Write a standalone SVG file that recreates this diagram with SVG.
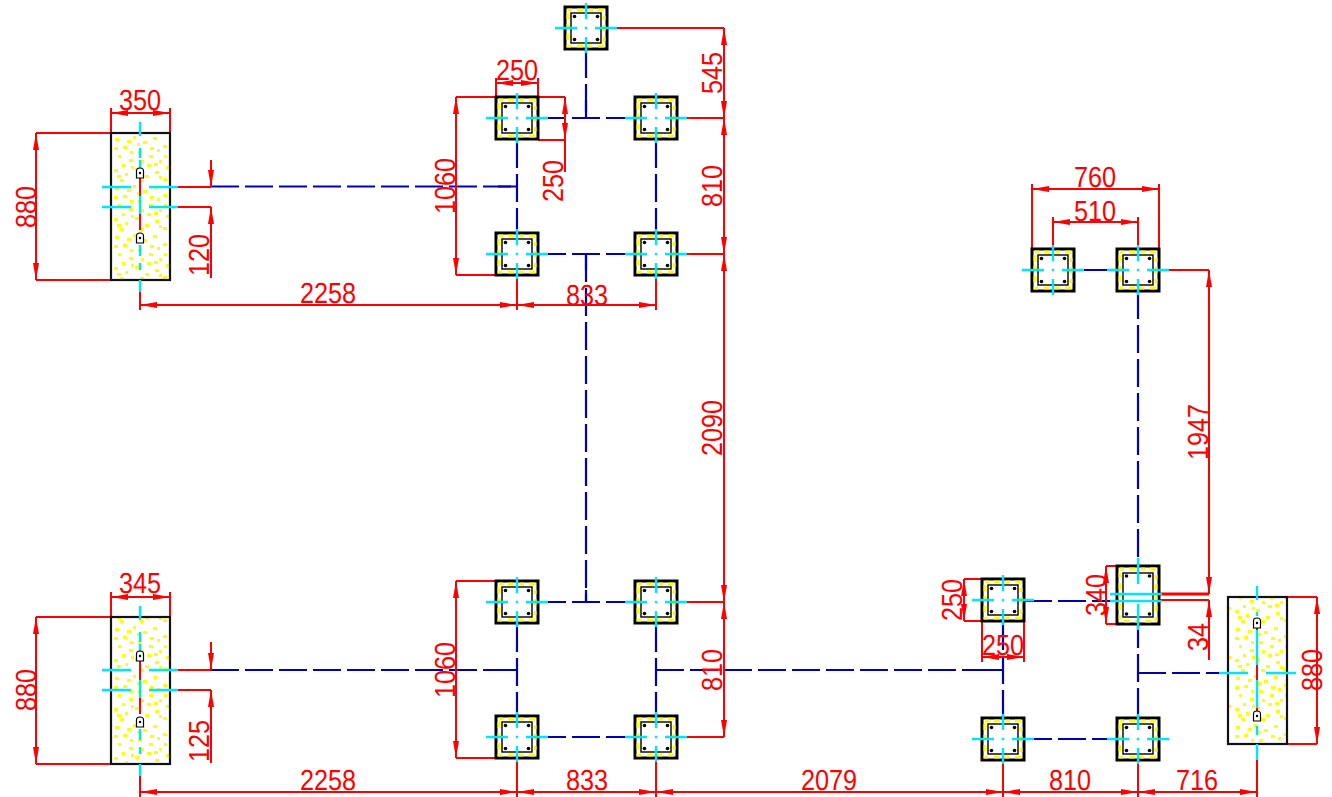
<svg xmlns="http://www.w3.org/2000/svg" xmlns:xlink="http://www.w3.org/1999/xlink" width="1332" height="797" viewBox="0 0 1332 797">
<style>
text{font-family:"Liberation Sans",Arial,sans-serif;font-size:29px;fill:#ff0000;text-anchor:middle;text-rendering:geometricPrecision}
.d{stroke:#ff0000;stroke-width:2;fill:none}
.a{marker-start:url(#ar);marker-end:url(#ar)}
.b{stroke:#0000b4;stroke-width:2.2;fill:none;stroke-dasharray:28 6}
.s{stroke:#0000b4;stroke-width:2.2;fill:none}
.c{stroke:#00e5ff;stroke-width:2.4;fill:none}
.o{fill:#fff;stroke:#000;stroke-width:3}
.y{fill:none;stroke:#ffff00;stroke-width:3;stroke-dasharray:4 5 6 6}
.i{fill:none;stroke:#000;stroke-width:1.4}
.f{fill:url(#dots);stroke:#111;stroke-width:2.2}
.h{fill:#fff;stroke:#000;stroke-width:1.2}
</style>
<defs>
<marker id="ar" viewBox="0 0 17 6" refX="17" refY="3" markerWidth="17" markerHeight="6" markerUnits="userSpaceOnUse" orient="auto-start-reverse"><path d="M17 3L0 0V6Z" fill="#ff0000"/></marker>
<pattern id="dots" patternUnits="userSpaceOnUse" width="59" height="49" x="111" y="133">
<rect width="59" height="49" fill="#fff"/>
<g fill="#ffff00">
<rect x="4" y="5" width="4" height="3"/><rect x="12" y="13" width="4" height="3"/><rect x="22" y="3" width="3" height="3"/><rect x="32" y="8" width="4" height="3"/><rect x="42" y="4" width="4" height="3"/><rect x="52" y="12" width="4" height="3"/><rect x="7" y="22" width="3" height="3"/><rect x="18" y="26" width="4" height="3"/><rect x="27" y="18" width="4" height="3"/><rect x="38" y="22" width="4" height="3"/><rect x="48" y="27" width="3" height="3"/><rect x="55" y="33" width="3" height="3"/><rect x="3" y="36" width="4" height="3"/><rect x="14" y="40" width="3" height="3"/><rect x="24" y="35" width="4" height="3"/><rect x="34" y="42" width="4" height="3"/><rect x="44" y="38" width="4" height="3"/><rect x="52" y="45" width="4" height="3"/><rect x="9" y="46" width="4" height="3"/><rect x="29" y="46" width="4" height="3"/><rect x="16" y="7" width="4" height="3"/><rect x="46" y="16" width="3" height="3"/><rect x="36" y="31" width="4" height="3"/><rect x="11" y="31" width="3" height="3"/><rect x="26" y="10" width="3" height="3"/><rect x="39" y="14" width="4" height="3"/><rect x="19" y="18" width="3" height="3"/><rect x="3" y="14" width="4" height="3"/><rect x="53" y="22" width="3" height="3"/><rect x="43" y="30" width="4" height="3"/><rect x="20" y="33" width="3" height="3"/><rect x="48" y="43" width="3" height="3"/><rect x="6" y="42" width="4" height="3"/><rect x="30" y="27" width="3" height="3"/>
</g>
</pattern>
<g id="col">
<rect class="o" x="-21" y="-21" width="42" height="42"/>
<rect class="i" x="-15" y="-15" width="30" height="30"/>
<rect class="y" x="-18" y="-18" width="36" height="36"/>
<g fill="#000"><circle cx="-11.500" cy="-11.500" r="1.800"/><circle cx="11.500" cy="-11.500" r="1.800"/><circle cx="-11.500" cy="11.500" r="1.800"/><circle cx="11.500" cy="11.500" r="1.800"/></g>
<path class="c" d="M-31 0H-9M-1 0H1M9 0H31M0 -25V-9M0 -1V1M0 9V25"/>
</g>
<g id="anchor"><path class="h" d="M-3.500 5V-2Q-3.500 -5 0 -5Q3.500 -5 3.500 -2V5Z"/><circle cx="0" cy="0" r="1.200" fill="#000"/></g>
</defs>
<rect width="1332" height="797" fill="#fff"/>

<g id="connectors">
<path class="b" d="M586 50V118M538 118H634M538 254H634M538 602H634M538 737H634M1024 601H1117M1024 739H1117"/>
<path class="b" d="M517 140V232M656 140V232M586 254V602M517 624V715M656 624V715M211 186.500H517M211 670H517M656 670H1003M1003 622V717M1138 620V717M1138 673H1228M1138 291V566"/>
<path class="s" d="M1074 270H1117M586 100V118M586 254V270M586 590V602M498 186.500H517M498 670H517M656 670H675M985 670H1003M1138 673H1155"/>
</g>

<g id="dimensions">
<path class="d" d="M111 133V108M170 133V108M36 133H111M36 280H111M170 187H211M170 207H211M211 160V187M211 207V278M140 280V310M517 275V310M656 275V310M496 97V78M538 97V78M456 97H496M456 275H496M538 97H565M538 140H565M608 28H724M678 118H724M678 254H724M678 602H724M678 737H724"/>
<path class="d a" d="M111 113H170"/>
<path class="d a" d="M36 133V280"/>
<path class="d a" d="M140 305H517"/>
<path class="d a" d="M517 305H656"/>
<path class="d a" d="M496 83H538"/>
<path class="d a" d="M456 97V275"/>
<path class="d" d="M565 97V172"/><path class="d a" d="M565 97V140"/>
<path class="d a" d="M724 28V118"/><path class="d a" d="M724 118V254"/><path class="d a" d="M724 254V602"/><path class="d a" d="M724 602V737"/>
<path class="d" d="M111 617V592M170 617V592M36 617H111M36 764H111M170 670H211M170 690H211M211 642V670M211 690V763M140 764V797M517 758V797M656 758V797M1003 760V797M1138 760V797M1257 744V797M456 581H496M456 758H496"/>
<path class="d a" d="M111 597H170"/>
<path class="d a" d="M36 617V764"/>
<path class="d a" d="M456 581V758"/>
<path class="d a" d="M140 792H517"/><path class="d a" d="M517 792H656"/><path class="d a" d="M656 792H1003"/><path class="d a" d="M1003 792H1138"/><path class="d a" d="M1138 792H1257"/>
<path class="d" d="M1032 249V184M1159 249V184M1053 249V217M1138 249V217M1159 270H1209M1159 600H1209M1106 566H1117M1106 624H1117M964 579H982M964 621H982M982 621V662M1024 621V662M1287 597H1317M1287 744H1317"/>
<path class="d" d="M1159 594H1209" style="stroke-width:2.800"/>
<path class="d a" d="M1032 189H1159"/>
<path class="d a" d="M1053 222H1138"/>
<path class="d a" d="M1209 270V594"/>
<path class="d a" d="M1106 566V624"/>
<path class="d a" d="M964 579V621"/>
<path class="d a" d="M982 657H1024"/>
<path class="d a" d="M1317 597V744"/>
<path class="d" d="M1209 600V660"/>
<path d="M1209 600L1206 617H1212Z" fill="#ff0000"/>
<path d="M211 207L208 224H214Z" fill="#ff0000"/><path d="M211 187L208 170H214Z" fill="#ff0000"/>
<path d="M211 690L208 707H214Z" fill="#ff0000"/><path d="M211 670L208 653H214Z" fill="#ff0000"/>
</g>

<g id="foundation-1">
<rect class="f" x="111" y="133" width="59" height="147"/>
<path class="d" d="M140 176V230"/>
<path class="c" d="M140 122V136M140 148V158M140 160V172M140 196V214M140 245V256M140 263V270M140 280V292M102 187H131M149 187H178M102 207H131M149 207H178"/>
<use href="#anchor" x="140" y="173"/><use href="#anchor" x="140" y="238"/>
</g>
<g id="foundation-2">
<rect class="f" x="111" y="617" width="59" height="147"/>
<path class="d" d="M140 660V714"/>
<path class="c" d="M140 606V620M140 632V642M140 644V652M140 680V698M140 729V740M140 747V754M140 764V776M102 670H131M149 670H178M102 690H131M149 690H178"/>
<use href="#anchor" x="140" y="656"/><use href="#anchor" x="140" y="722"/>
</g>
<g id="foundation-3">
<rect class="f" x="1228" y="597" width="59" height="147"/>
<path class="d" d="M1257 628V712"/>
<path class="c" d="M1257 586V600M1257 612V616M1257 630V665M1257 680V708M1257 726V735M1257 744V760M1219 673H1248M1266 673H1296"/>
<use href="#anchor" x="1257" y="623"/><use href="#anchor" x="1257" y="716"/>
</g>

<g id="col-1"><use href="#col" x="586" y="28"/></g>
<g id="col-2"><use href="#col" x="517" y="118"/></g>
<g id="col-3"><use href="#col" x="656" y="118"/></g>
<g id="col-4"><use href="#col" x="517" y="254"/></g>
<g id="col-5"><use href="#col" x="656" y="254"/></g>
<g id="col-6"><use href="#col" x="517" y="602"/></g>
<g id="col-7"><use href="#col" x="656" y="602"/></g>
<g id="col-8"><use href="#col" x="517" y="737"/></g>
<g id="col-9"><use href="#col" x="656" y="737"/></g>
<g id="col-10"><use href="#col" x="1003" y="600"/></g>
<g id="col-11"><use href="#col" x="1003" y="739"/></g>
<g id="col-12"><use href="#col" x="1138" y="739"/></g>
<g id="col-13"><use href="#col" x="1053" y="270"/></g>
<g id="col-14"><use href="#col" x="1138" y="270"/></g>
<g id="col-15">
<rect class="o" x="1117" y="566" width="42" height="58"/>
<rect class="i" x="1123" y="573" width="30" height="44"/>
<rect class="y" x="1120" y="569" width="36" height="52"/>
<g fill="#000"><circle cx="1126.500" cy="576" r="1.800"/><circle cx="1149.500" cy="576" r="1.800"/><circle cx="1126.500" cy="614" r="1.800"/><circle cx="1149.500" cy="614" r="1.800"/></g>
<path class="c" d="M1110 594H1162M1110 601H1162M1138 558V584M1138 604V630"/>
</g>

<g id="labels">
<text transform="translate(140 110) scale(.87 1)">350</text>
<text transform="translate(36 207) rotate(-90) scale(.87 1)">880</text>
<text transform="translate(209 255) rotate(-90) scale(.87 1)">120</text>
<text transform="translate(328 303) scale(.87 1)">2258</text>
<text transform="translate(587 305) scale(.87 1)">833</text>
<text transform="translate(517 80) scale(.87 1)">250</text>
<text transform="translate(455 186) rotate(-90) scale(.87 1)">1060</text>
<text transform="translate(563 181) rotate(-90) scale(.87 1)">250</text>
<text transform="translate(722 73) rotate(-90) scale(.87 1)">545</text>
<text transform="translate(722 186) rotate(-90) scale(.87 1)">810</text>
<text transform="translate(722 428) rotate(-90) scale(.87 1)">2090</text>
<text transform="translate(722 670) rotate(-90) scale(.87 1)">810</text>
<text transform="translate(140 593) scale(.87 1)">345</text>
<text transform="translate(36 690) rotate(-90) scale(.87 1)">880</text>
<text transform="translate(209 741) rotate(-90) scale(.87 1)">125</text>
<text transform="translate(455 670) rotate(-90) scale(.87 1)">1060</text>
<text transform="translate(328 790) scale(.87 1)">2258</text>
<text transform="translate(587 790) scale(.87 1)">833</text>
<text transform="translate(829 790) scale(.87 1)">2079</text>
<text transform="translate(1070 790) scale(.87 1)">810</text>
<text transform="translate(1197 790) scale(.87 1)">716</text>
<text transform="translate(1095 187) scale(.87 1)">760</text>
<text transform="translate(1095 221) scale(.87 1)">510</text>
<text transform="translate(1208 432) rotate(-90) scale(.87 1)">1947</text>
<text transform="translate(1208 637) rotate(-90) scale(.87 1)">34</text>
<text transform="translate(1106 595) rotate(-90) scale(.87 1)">340</text>
<text transform="translate(962 600) rotate(-90) scale(.87 1)">250</text>
<text transform="translate(1003 655) scale(.87 1)">250</text>
<text transform="translate(1322 670) rotate(-90) scale(.87 1)">880</text>
</g>
</svg>
